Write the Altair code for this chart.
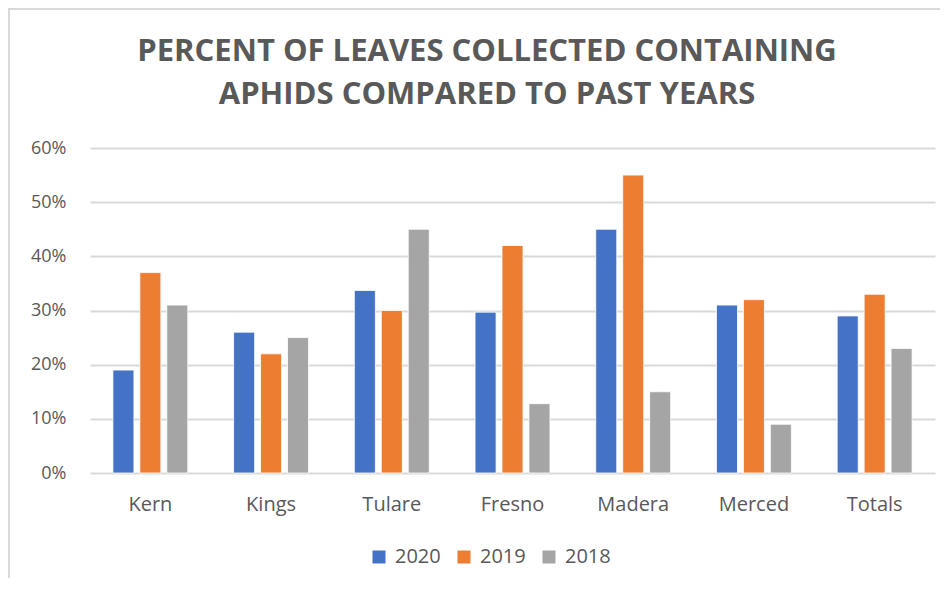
import altair as alt
import pandas as pd

counties = ["Kern", "Kings", "Tulare", "Fresno", "Madera", "Merced", "Totals"]
years = ["2020", "2019", "2018"]
v2020 = [0.19, 0.26, 0.337, 0.297, 0.45, 0.31, 0.29]
v2019 = [0.37, 0.22, 0.30, 0.42, 0.55, 0.32, 0.33]
v2018 = [0.31, 0.25, 0.45, 0.128, 0.15, 0.09, 0.23]
colors = ["#4472C4", "#ED7D31", "#A5A5A5"]
title_lines = ["PERCENT OF LEAVES COLLECTED CONTAINING",
               "APHIDS COMPARED TO PAST YEARS"]

rows = []
for i, c in enumerate(counties):
    for y, vals in zip(years, [v2020, v2019, v2018]):
        rows.append({"county": c, "year": y, "value": vals[i]})
df = pd.DataFrame(rows)

FONT = "Open Sans"
GREY = "#595959"

bars = alt.Chart(df).mark_bar(stroke="white", strokeWidth=0.8).encode(
    x=alt.X("county:N", sort=counties, title=None,
            scale=alt.Scale(paddingInner=0, paddingOuter=0),
            axis=alt.Axis(labelAngle=0, labelFontSize=20, labelColor=GREY,
                          labelFont=FONT, labelPadding=21, ticks=False,
                          domain=False, grid=False)),
    xOffset=alt.XOffset("year:N", sort=years,
                        scale=alt.Scale(paddingInner=0.22, paddingOuter=0.85)),
    y=alt.Y("value:Q", title=None,
            scale=alt.Scale(domain=[0, 0.6]),
            axis=alt.Axis(format=".0%", values=[0, 0.1, 0.2, 0.3, 0.4, 0.5, 0.6],
                          labelFontSize=18, labelColor=GREY, labelFont=FONT,
                          labelPadding=24, ticks=False, domain=False,
                          gridColor="#D9D9D9", gridWidth=2)),
    color=alt.Color("year:N", sort=years,
                    scale=alt.Scale(domain=years, range=colors),
                    legend=alt.Legend(title=None, orient="none", direction="horizontal",
                                      legendX=279, legendY=399,
                                      symbolType="square", symbolSize=169,
                                      symbolStrokeWidth=0, labelFontSize=20,
                                      labelColor=GREY, labelFont=FONT,
                                      columnPadding=13, labelOffset=6)),
)

one = pd.DataFrame({"k": [0]})
title = alt.Chart(one).mark_text(
    text=title_lines, font=FONT, fontSize=31, fontWeight="bold", color=GREY,
    align="center", baseline="alphabetic", lineHeight=43,
).encode(x=alt.value(397), y=alt.value(-87))

border_left = alt.Chart(one).mark_rule(color="#D9D9D9", strokeWidth=2).encode(
    x=alt.value(-81), y=alt.value(-140), y2=alt.value(440))
border_top = alt.Chart(one).mark_rule(color="#D9D9D9", strokeWidth=2).encode(
    x=alt.value(-82), x2=alt.value(860), y=alt.value(-139))

chart = alt.layer(border_left, border_top, title, bars).properties(
    width=845, height=325,
    autosize=alt.AutoSizeParams(type="none"),
    padding={"left": 82, "top": 140, "right": 5, "bottom": 105},
).configure_view(stroke=None)

chart.save("out.html", embed_options={"renderer": "svg", "actions": False})
